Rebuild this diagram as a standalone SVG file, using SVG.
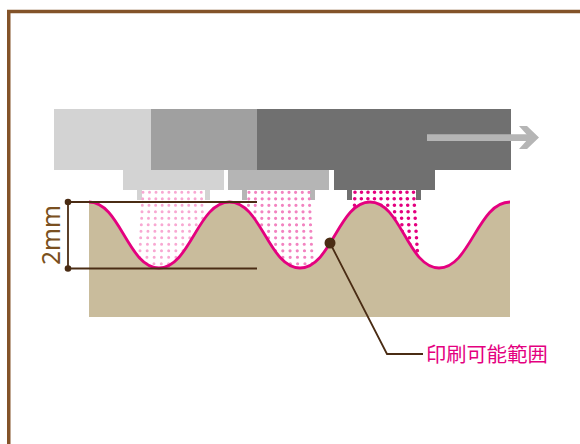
<svg xmlns="http://www.w3.org/2000/svg" width="580" height="444" viewBox="0 0 580 444">
<style>
.spray{fill:none;stroke-linecap:round;stroke-dasharray:0 6.5}
.ink{stroke:#4a2c14;stroke-width:1.800;fill:none}
.dot{fill:#4a2c14}
</style>
<rect width="580" height="444" fill="#fff"/>
<path id="frame" d="M8.750 444V11.500H580" fill="none" stroke="#835329" stroke-width="3.500"/>
<g id="carriage-light">
<rect x="54" y="109" width="97" height="61" fill="#d3d3d3"/>
<rect x="123" y="170" width="101" height="20" fill="#d3d3d3"/>
<rect x="137" y="190" width="5" height="10" fill="#d3d3d3"/>
<rect x="205" y="190" width="5" height="10" fill="#d3d3d3"/>
</g>
<g id="carriage-mid">
<rect x="151" y="109" width="106" height="61" fill="#a0a0a0"/>
<rect x="228" y="170" width="101" height="20" fill="#b5b5b5"/>
<rect x="242" y="190" width="5" height="10" fill="#b5b5b5"/>
<rect x="310" y="190" width="5" height="10" fill="#b5b5b5"/>
</g>
<g id="carriage-dark">
<rect x="257" y="109" width="254" height="61" fill="#707070"/>
<rect x="334" y="170" width="101" height="20" fill="#707070"/>
<rect x="347" y="190" width="5" height="10" fill="#707070"/>
<rect x="416" y="190" width="5" height="10" fill="#707070"/>
</g>
<g id="spray-light" class="spray" stroke="#f8a8d2" stroke-width="3">
<path d="M143 192.300L139 270M149.500 192.300L146.400 270M156 192.300L153.800 270M162.400 192.300L161.200 270M168.900 192.300L168.600 270M175.400 192.300L176 270M181.800 192.300L183.400 270M188.300 192.300L190.800 270M194.800 192.300L198.200 270M201.200 192.300L205.600 270"/>
</g>
<g id="spray-mid" class="spray" stroke="#f283c0" stroke-width="3.200">
<path d="M249 192.300L246 270M255.600 192.300L253.400 270M262.300 192.300L260.800 270M269 192.300L268.200 270M275.600 192.300L275.600 270M282.300 192.300L283 270M289 192.300L290.400 270M295.600 192.300L297.800 270M302.300 192.300L305.200 270M309 192.300L312.600 270"/>
</g>
<g id="spray-dark" class="spray" stroke="#e4007f" stroke-width="3.600">
<path d="M355 192.300L352 270M361.500 192.300L359.400 270M368 192.300L366.800 270M374.500 192.300L374.200 270M381 192.300L381.600 270M387.500 192.300L389 270M394 192.300L396.400 270M400.500 192.300L403.800 270M407 192.300L411.200 270M413.500 192.300L418.600 270"/>
</g>
<g id="surface">
<path d="M89 202C120 202 128 268 159 268C190 268 198 202 229.500 202C261 202 269 268 300 268C331 268 339 202 370 202C401 202 408 268 439 268C470 268 478 202 510 202V317H89Z" fill="#c9bc9c"/>
<path d="M89 202C120 202 128 268 159 268C190 268 198 202 229.500 202C261 202 269 268 300 268C331 268 339 202 370 202C401 202 408 268 439 268C470 268 478 202 510 202" fill="none" stroke="#e4007f" stroke-width="2.800"/>
</g>
<g id="arrow">
<path d="M427 134.300H530V141H427Z" fill="#b5b5b5"/>
<path d="M519 126H527L539 137.500L527 149H519L528 139V136Z" fill="#b5b5b5"/>
</g>
<g id="connectors">
<path class="ink" d="M68 202H257M68 268.500H257M68 202V268.500"/>
<path class="ink" d="M330 243L387 354H423"/>
</g>
<g id="dimension">
<circle class="dot" cx="68" cy="202" r="3.300"/>
<circle class="dot" cx="68" cy="268.500" r="3.300"/>
<text transform="translate(60 235) rotate(-90)" text-anchor="middle" font-family="'Noto Sans',sans-serif" font-size="24.500" fill="#7a5020">2mm</text>
</g>
<g id="callout">
<circle class="dot" cx="330" cy="243" r="5.500"/>
<text x="426" y="362" font-family="'Noto Sans CJK JP',sans-serif" font-size="20.300" fill="#e4007f">印刷可能範囲</text>
</g>
</svg>
